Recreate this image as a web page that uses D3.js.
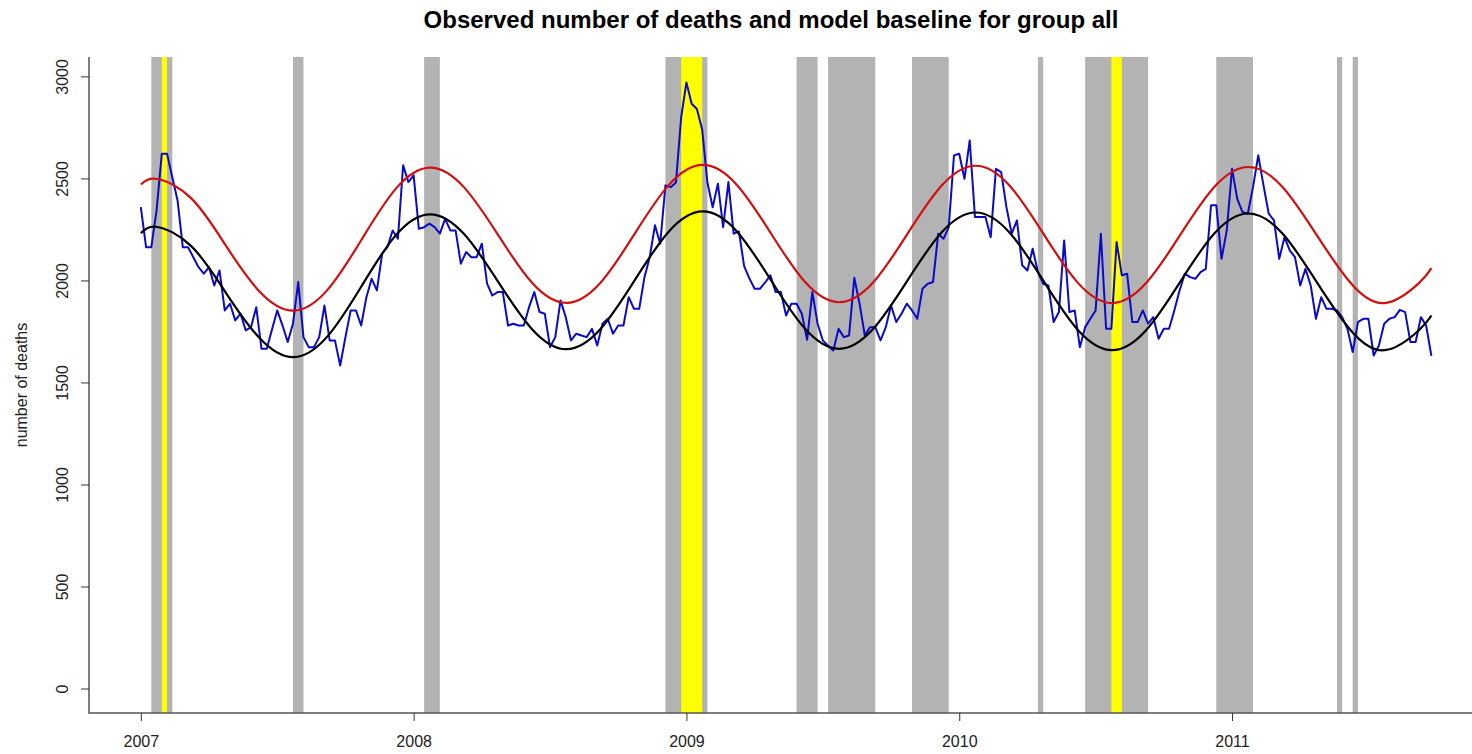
<!DOCTYPE html>
<html>
<head>
<meta charset="utf-8">
<script src="https://cdn.jsdelivr.net/npm/d3@7"></script>
<style>
  body { margin: 0; background: #fff; }
  svg { display: block; font-family: 'Liberation Sans', Arial, sans-serif; }
</style>
</head>
<body>
<svg id="chart" width="1472" height="754"></svg>
<script>
// weekly observed deaths, first week at 2007.0, one point per week
const weekStart = 2007;
const weeksPerYear = 52;
const observed = [
  2359, 2163, 2163, 2343, 2621, 2621, 2506, 2392, 2163, 2163,
  2114, 2065, 2033, 2065, 1975, 2049, 1853, 1886, 1804, 1837,
  1755, 1771, 1869, 1665, 1665, 1760, 1853, 1780, 1698, 1788,
  1992, 1722, 1673, 1673, 1722, 1877, 1706, 1706, 1583, 1722,
  1853, 1853, 1779, 1918, 2008, 1951, 2131, 2163, 2245, 2204,
  2564, 2482, 2515, 2253, 2261, 2278, 2261, 2229, 2302, 2245,
  2245, 2082, 2139, 2114, 2114, 2180, 1984, 1926, 1943, 1943,
  1779, 1788, 1779, 1779, 1869, 1943, 1845, 1837, 1673, 1722,
  1902, 1820, 1706, 1739, 1730, 1722, 1763, 1681, 1788, 1812,
  1739, 1779, 1779, 1918, 1861, 1861, 2016, 2114, 2270, 2180,
  2466, 2457, 2480, 2800, 2970, 2866, 2840, 2740, 2480, 2359,
  2474, 2261, 2482, 2229, 2240, 2070, 2010, 1959, 1959, 1990,
  2025, 1943, 1943, 1828, 1886, 1886, 1837, 1709, 1943, 1788,
  1706, 1680, 1657, 1763, 1722, 1730, 2013, 1886, 1730, 1771,
  1771, 1706, 1771, 1877, 1796, 1837, 1886, 1853, 1812, 1959,
  1984, 1992, 2229, 2204, 2261, 2613, 2621, 2498, 2686, 2311,
  2311, 2311, 2212, 2547, 2531, 2359, 2229, 2294, 2074, 2049,
  2155, 2041, 1984, 1975, 1796, 1845, 2196, 1845, 1853, 1673,
  1771, 1812, 1853, 2229, 1763, 1763, 2188, 2025, 2033, 1796,
  1796, 1853, 1788, 1820, 1714, 1763, 1763, 1853, 1951, 2033,
  2016, 2008, 2041, 2057, 2368, 2368, 2106, 2245, 2547, 2400,
  2335, 2327, 2457, 2613, 2466, 2327, 2294, 2106, 2212, 2147,
  2114, 1975, 2057, 1975, 1812, 1918, 1861, 1861, 1853, 1820,
  1763, 1649, 1796, 1812, 1812, 1632, 1681, 1788, 1812, 1820,
  1856, 1845, 1698, 1698, 1820, 1779, 1630,
];

// model curves read at fixed times (decimal years)
const curveYears = [
  2007.0, 2007.06, 2007.185, 2007.31, 2007.435, 2007.56, 2007.685, 2007.81, 2007.935,
  2008.06, 2008.185, 2008.31, 2008.435, 2008.56, 2008.685, 2008.81, 2008.935,
  2009.06, 2009.185, 2009.31, 2009.435, 2009.56, 2009.685, 2009.81, 2009.935,
  2010.06, 2010.185, 2010.31, 2010.435, 2010.56, 2010.685, 2010.81, 2010.935,
  2011.06, 2011.185, 2011.31, 2011.435, 2011.56, 2011.685, 2011.731,
];
const upperLimit = [
  2470, 2497, 2402, 2174, 1946, 1852, 1955, 2202, 2450,
  2553, 2456, 2222, 1987, 1890, 1989, 2228, 2467,
  2566, 2468, 2230, 1992, 1893, 1991, 2228, 2464,
  2562, 2464, 2226, 1988, 1889, 1987, 2223, 2458,
  2556, 2458, 2223, 1987, 1889, 1987, 2060,
];
const baseline = [
  2232, 2262, 2168, 1943, 1718, 1624, 1727, 1974, 2222,
  2324, 2227, 1993, 1760, 1663, 1762, 2000, 2239,
  2338, 2240, 2001, 1763, 1665, 1763, 1999, 2235,
  2333, 2234, 1995, 1757, 1658, 1756, 1993, 2230,
  2328, 2230, 1993, 1756, 1658, 1756, 1828,
];

// shaded periods as [first week, last week] indices into observed
const grayWeeks = [
  [2, 6], [29, 31], [54, 57], [100, 108], [125, 129], [131, 140],
  [147, 154], [171, 172], [180, 192], [205, 212], [228, 229], [231, 232],
];
const yellowWeeks = [[4, 5], [103, 107], [185, 187]];

const xTicks = [2007, 2008, 2009, 2010, 2011];
const yTicks = [0, 500, 1000, 1500, 2000, 2500, 3000];

const weekYear = n => weekStart + n / weeksPerYear;

const svg = d3.select('#chart');
const x = d3.scaleLinear().domain([2006.81, 2011.92]).range([89, 1483]);
const y = d3.scaleLinear().domain([-120, 3095]).range([713, 57]);
const [yBottom, yTop] = y.range();

// shaded bands span the whole plot height
const drawBands = (weeks, color) => svg.append('g')
  .selectAll('rect')
  .data(weeks)
  .enter().append('rect')
    .attr('x', d => x(weekYear(d[0])))
    .attr('width', d => x(weekYear(d[1])) - x(weekYear(d[0])))
    .attr('y', yTop)
    .attr('height', yBottom - yTop)
    .attr('fill', color);
drawBands(grayWeeks, '#b3b3b3');
drawBands(yellowWeeks, '#ffff00');

const smooth = d3.line().x(d => x(d[0])).y(d => y(d[1])).curve(d3.curveNatural);
const weekly = d3.line().x((d, i) => x(weekYear(i))).y(d => y(d));

svg.append('path')
    .attr('d', weekly(observed))
    .attr('fill', 'none')
    .attr('stroke', '#0a0ac8')
    .attr('stroke-width', 2)
    .attr('stroke-linejoin', 'round');
svg.append('path')
    .attr('d', smooth(d3.zip(curveYears, upperLimit)))
    .attr('fill', 'none')
    .attr('stroke', '#d01010')
    .attr('stroke-width', 2.2);
svg.append('path')
    .attr('d', smooth(d3.zip(curveYears, baseline)))
    .attr('fill', 'none')
    .attr('stroke', '#000')
    .attr('stroke-width', 2.2);

// L-shaped box
svg.append('path')
    .attr('d', `M${x.range()[0]},${yTop}V${yBottom}H${x.range()[1]}`)
    .attr('fill', 'none')
    .attr('stroke', '#555')
    .attr('stroke-width', 1.5);

const xAxis = svg.append('g')
    .attr('transform', `translate(0,${yBottom})`)
    .call(d3.axisBottom(x).tickValues(xTicks).tickSize(8).tickFormat(d3.format('d')));
xAxis.select('.domain').remove();
xAxis.selectAll('line').attr('stroke', '#333');
xAxis.selectAll('text')
    .attr('y', 23)
    .attr('fill', '#222')
    .style('font-size', '16px');

const yAxis = svg.append('g')
    .attr('transform', `translate(${x.range()[0]},0)`)
    .call(d3.axisLeft(y).tickValues(yTicks).tickSize(8).tickFormat(d3.format('d')));
yAxis.select('.domain').remove();
yAxis.selectAll('line').attr('stroke', '#333');
yAxis.selectAll('text')
    .attr('x', null)
    .attr('dy', null)
    .attr('y', 0)
    .attr('text-anchor', 'middle')
    .attr('transform', 'translate(-21,0) rotate(-90)')
    .attr('fill', '#222')
    .style('font-size', '16px');

svg.append('text')
    .attr('transform', 'translate(27,385) rotate(-90)')
    .attr('text-anchor', 'middle')
    .attr('fill', '#222')
    .style('font-size', '16px')
    .text('number of deaths');

svg.append('text')
    .attr('x', 771)
    .attr('y', 28)
    .attr('text-anchor', 'middle')
    .attr('fill', '#000')
    .style('font-size', '24px')
    .style('font-weight', 'bold')
    .text('Observed number of deaths and model baseline for group all');
</script>
</body>
</html>
